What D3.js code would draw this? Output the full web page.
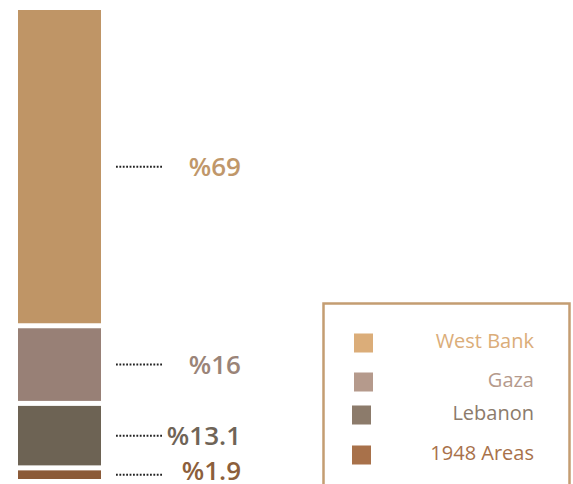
<!DOCTYPE html>
<html>
<head>
<meta charset="utf-8">
<script src="https://cdn.jsdelivr.net/npm/d3@7"></script>
<style>
  body { margin: 0; background: #fff; }
  svg { display: block; font-family: "Open Sans", "Noto Sans", sans-serif; }
</style>
</head>
<body>
<svg width="573" height="484"></svg>
<script>
const categories = ["West Bank", "Gaza", "Lebanon", "1948 Areas"];
const values = [69, 16, 13.1, 1.9];
const valueLabels = ["%69", "%16", "%13.1", "%1.9"];
const barColors = ["#bf9566", "#988076", "#6d6354", "#8b5a38"];
const labelColors = ["#c0976a", "#9a8478", "#6f6457", "#8c5f3c"];
const legendColors = ["#dbad79", "#b59a8c", "#8c7b6b", "#a8714a"];

const svg = d3.select("svg");
const barX = 18;
const barW = 83;
const barTop = 10;
const barBottom = 479;
const gap = 5;

const total = d3.sum(values);
const h = d3.scaleLinear()
  .domain([0, total])
  .range([0, barBottom - barTop - gap * (values.length - 1)]);

let y0 = barTop;
const segs = values.map((v, i) => {
  const s = { i, y: y0, h: h(v) };
  y0 += h(v) + gap;
  return s;
});

const g = svg.append("g");

g.selectAll("rect.bar")
  .data(segs)
  .join("rect")
  .attr("class", "bar")
  .attr("x", barX)
  .attr("y", d => d.y)
  .attr("width", barW)
  .attr("height", d => d.h)
  .attr("fill", d => barColors[d.i]);

// dotted leaders
g.selectAll("line.lead")
  .data(segs)
  .join("line")
  .attr("class", "lead")
  .attr("x1", 116)
  .attr("x2", 163)
  .attr("y1", d => d.y + d.h / 2)
  .attr("y2", d => d.y + d.h / 2)
  .attr("stroke", "#222")
  .attr("stroke-width", 2)
  .attr("stroke-dasharray", "1.8,1.6");

g.selectAll("text.val")
  .data(segs)
  .join("text")
  .attr("class", "val")
  .attr("x", 241)
  .attr("y", d => Math.min(d.y + d.h / 2, 471))
  .attr("dy", "0.36em")
  .attr("text-anchor", "end")
  .attr("font-size", 26)
  .attr("font-weight", 600)
  .attr("fill", d => labelColors[d.i])
  .text(d => valueLabels[d.i]);

// legend
const legend = svg.append("g");
legend.append("rect")
  .attr("x", 323.5)
  .attr("y", 303.5)
  .attr("width", 246)
  .attr("height", 200)
  .attr("fill", "none")
  .attr("stroke", "#c49d72")
  .attr("stroke-width", 2.5);

const legendY = [343, 382, 415, 455];
const swatchX = [354, 354, 352, 352];

const items = legend.selectAll("g.item")
  .data(categories)
  .join("g")
  .attr("class", "item");

items.append("rect")
  .attr("x", (d, i) => swatchX[i])
  .attr("y", (d, i) => legendY[i] - 9.5)
  .attr("width", 19)
  .attr("height", 19)
  .attr("fill", (d, i) => legendColors[i]);

items.append("text")
  .attr("x", 534)
  .attr("y", (d, i) => legendY[i] - 2)
  .attr("dy", "0.36em")
  .attr("text-anchor", "end")
  .attr("font-size", 20)
  .attr("font-weight", 400)
  .attr("fill", (d, i) => legendColors[i])
  .text(d => d);
</script>
</body>
</html>
